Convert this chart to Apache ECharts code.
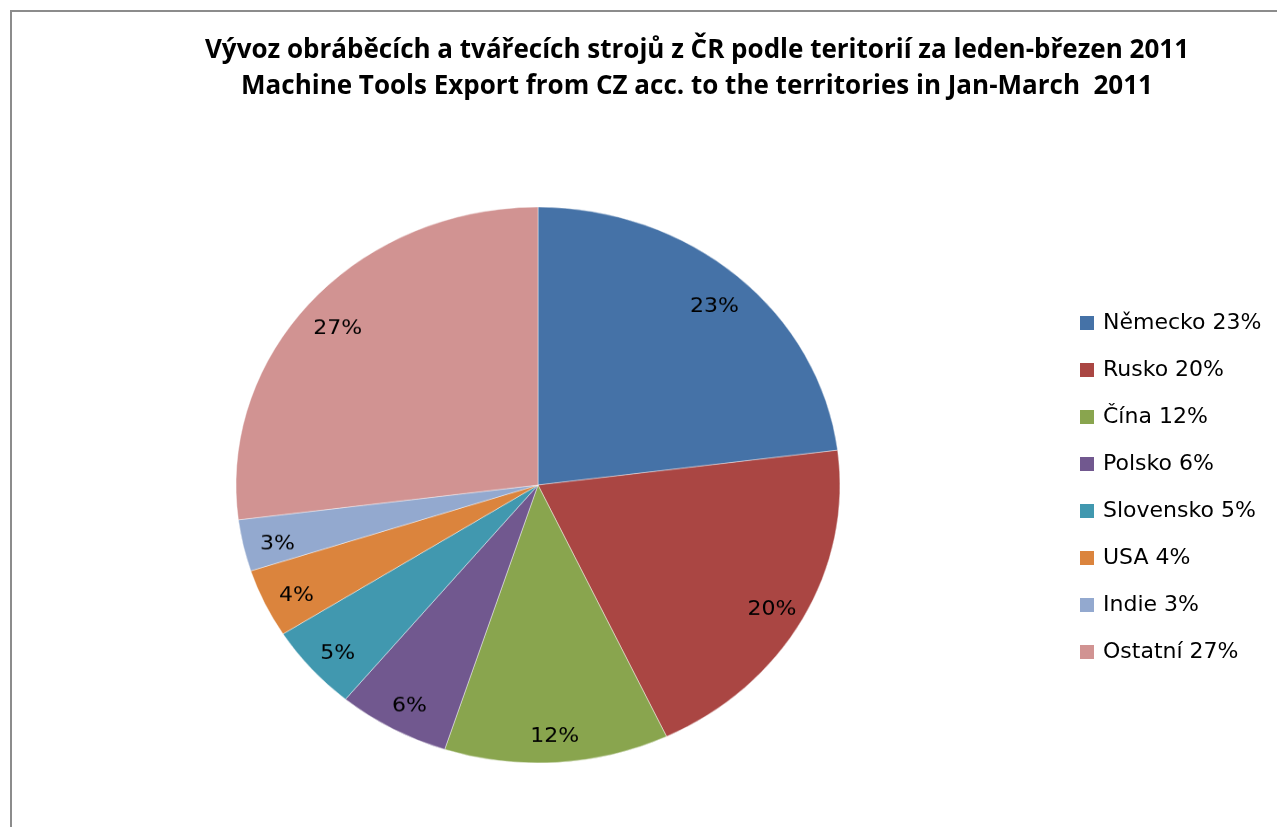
<!DOCTYPE html>
<html>
<head>
<meta charset="utf-8">
<script src="https://cdn.jsdelivr.net/npm/echarts@6/dist/echarts.min.js"></script>
<style>
html,body{margin:0;padding:0;background:#fff;}
#main{position:absolute;left:0;top:0;width:1277px;height:827px;}
#pie{position:absolute;left:0;top:0;width:1277px;height:827px;transform:scaleY(0.9205);transform-origin:538px 485px;}
</style>
</head>
<body>
<div id="main"></div>
<div id="pie"></div>
<script>
const titleLines = [
  'Vývoz obráběcích a tvářecích strojů z ČR podle teritorií za leden-březen 2011',
  'Machine Tools Export from CZ acc. to the territories in Jan-March  2011'
];
const categories = ['Německo', 'Rusko', 'Čína', 'Polsko', 'Slovensko', 'USA', 'Indie', 'Ostatní'];
const shares = [23, 20, 12, 6, 5, 4, 3, 27];
const colors = ['#4572A7', '#AA4643', '#89A54E', '#71588F', '#4198AF', '#DB843D', '#93A9CF', '#D19392'];

const pieData = categories.map((c, i) => ({ name: c, value: shares[i], itemStyle: { color: colors[i] } }));
const FONT = 'DejaVu Sans';

const main = echarts.init(document.getElementById('main'));
main.setOption({
  animation: false,
  title: {
    text: titleLines.join('\n'),
    left: 697,
    textAlign: 'center',
    top: 33,
    padding: 0,
    textStyle: { fontFamily: 'Open Sans', fontWeight: 'bold', fontSize: 26, lineHeight: 36, color: '#000' }
  },
  legend: {
    orient: 'vertical',
    left: 1080,
    top: 312,
    padding: 0,
    itemWidth: 14,
    itemHeight: 14,
    itemGap: 25,
    icon: 'rect',
    formatter: name => name + ' ' + shares[categories.indexOf(name)] + '%',
    textStyle: { fontFamily: FONT, fontSize: 22, lineHeight: 22, color: '#000', padding: [0, 0, 0, 4] },
    data: categories.map((c, i) => ({ name: c, itemStyle: { color: colors[i], opacity: 1 } }))
  },
  graphic: [{
    type: 'rect', silent: true,
    shape: { x: 11, y: 11, width: 1400, height: 1000 },
    style: { fill: 'none', stroke: '#8c8c8c', lineWidth: 2 }
  }],
  series: [{
    type: 'pie', radius: 0, center: [538, 485], silent: true,
    label: { show: false }, labelLine: { show: false },
    data: pieData
  }]
});

const pie = echarts.init(document.getElementById('pie'));
pie.setOption({
  animation: false,
  series: [{
    type: 'pie',
    center: [538, 485],
    radius: 302,
    startAngle: 90,
    clockwise: true,
    silent: true,
    label: { show: false },
    labelLine: { show: false },
    itemStyle: { borderColor: 'rgba(255,255,255,0.6)', borderWidth: 0.7 },
    data: pieData
  }, {
    type: 'pie',
    center: [538, 485],
    radius: [226, 302],
    startAngle: 90,
    clockwise: true,
    silent: true,
    itemStyle: { color: 'transparent' },
    label: {
      show: true, position: 'inside',
      formatter: p => shares[p.dataIndex] + '%',
      fontFamily: FONT, fontSize: 22, color: '#000'
    },
    labelLayout: () => ({ dy: 6.5 }),
    labelLine: { show: false },
    data: categories.map((c, i) => ({ name: c, value: shares[i] }))
  }]
});
</script>
</body>
</html>
